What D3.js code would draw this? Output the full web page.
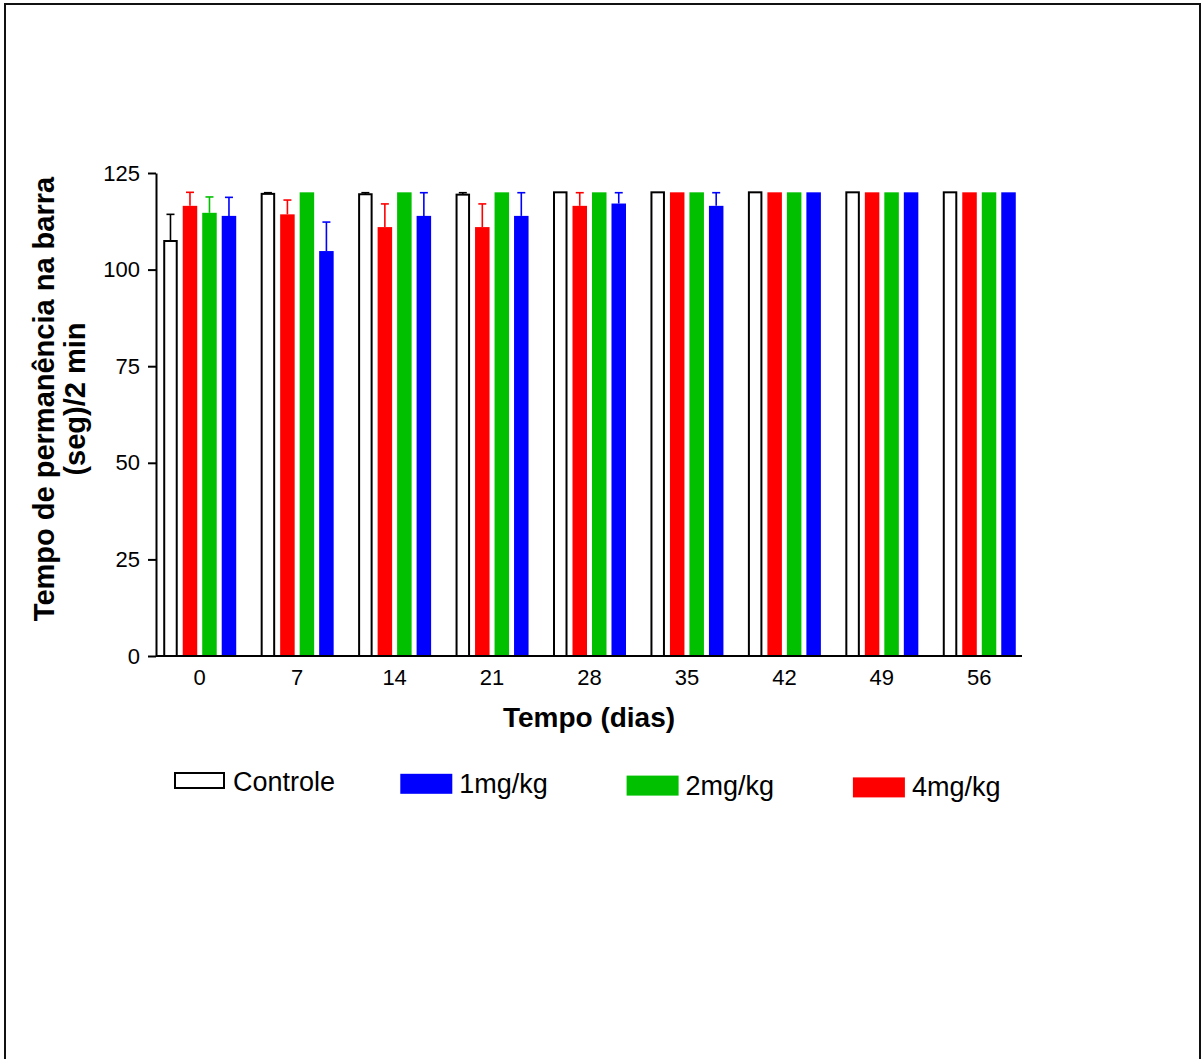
<!DOCTYPE html>
<html>
<head>
<meta charset="utf-8">
<script src="https://cdn.jsdelivr.net/npm/d3@7"></script>
<style>
  body { margin: 0; background: #fff; }
  svg { font-family: Arial, 'Liberation Sans', sans-serif; }
</style>
</head>
<body>
<svg id="chart" width="1202" height="1059"></svg>
<script>
// data
const days = ['0', '7', '14', '21', '28', '35', '42', '49', '56'];
const controle    = [107.4, 119.6, 119.5, 119.4, 120, 120, 120, 120, 120];
const controleErr = [6.9, 0.3, 0.4, 0.5, 0, 0, 0, 0, 0];
const dose4    = [116.5, 114.3, 111.0, 111.0, 116.5, 120, 120, 120, 120];
const dose4Err = [3.5, 3.7, 6.0, 6.0, 3.4, 0, 0, 0, 0];
const dose2    = [114.7, 120, 120, 120, 120, 120, 120, 120, 120];
const dose2Err = [4.1, 0, 0, 0, 0, 0, 0, 0, 0];
const dose1    = [113.9, 104.8, 113.9, 113.9, 117.1, 116.5, 120, 120, 120];
const dose1Err = [4.8, 7.5, 6.0, 6.0, 2.8, 3.4, 0, 0, 0];
const yTicks = [0, 25, 50, 75, 100, 125];

// bar order inside each group
const series = [
  { key: 'Controle', values: controle, err: controleErr, fill: '#ffffff', stroke: '#000000' },
  { key: '4mg/kg', values: dose4, err: dose4Err, fill: '#ff0000', stroke: null },
  { key: '2mg/kg', values: dose2, err: dose2Err, fill: '#00c000', stroke: null },
  { key: '1mg/kg', values: dose1, err: dose1Err, fill: '#0000ff', stroke: null }
];
const legendOrder = ['Controle', '1mg/kg', '2mg/kg', '4mg/kg'];

const svg = d3.select('#chart');

// frame
svg.append('rect')
  .attr('x', 5).attr('y', 4)
  .attr('width', 1195).attr('height', 1100)
  .attr('fill', 'none').attr('stroke', '#111').attr('stroke-width', 2);

const axisX = 156, xEnd = 1022;

const y = d3.scaleLinear().domain([0, 125]).range([656, 173]);

const x0 = d3.scaleBand().domain(days).range([151, 1028]);
const x1 = d3.scaleBand()
  .domain(series.map(s => s.key))
  .range([0, x0.bandwidth()])
  .paddingInner(0.256)
  .paddingOuter(0.627);

// bars
const groups = svg.append('g').selectAll('g')
  .data(days)
  .join('g')
  .attr('transform', d => `translate(${x0(d)},0)`);

series.forEach(s => {
  groups.append('rect')
    .attr('x', (d, i) => x1(s.key) + (s.stroke ? 1 : 0))
    .attr('y', (d, i) => y(s.values[i]))
    .attr('width', x1.bandwidth() - (s.stroke ? 2 : 0))
    .attr('height', (d, i) => y(0) - y(s.values[i]))
    .attr('fill', s.fill)
    .attr('stroke', s.stroke)
    .attr('stroke-width', s.stroke ? 2 : 0);

  // one-sided error bars
  const ec = s.stroke || s.fill;
  groups.filter((d, i) => s.err[i] > 0).each(function(d) {
    const i = days.indexOf(d);
    const cx = x1(s.key) + x1.bandwidth() / 2;
    const g = d3.select(this);
    g.append('line')
      .attr('x1', cx).attr('x2', cx)
      .attr('y1', y(s.values[i])).attr('y2', y(s.values[i] + s.err[i]))
      .attr('stroke', ec).attr('stroke-width', 1.6);
    g.append('line')
      .attr('x1', cx - 4).attr('x2', cx + 4)
      .attr('y1', y(s.values[i] + s.err[i])).attr('y2', y(s.values[i] + s.err[i]))
      .attr('stroke', ec).attr('stroke-width', 1.6);
  });
});

// y axis
const yAxis = svg.append('g')
  .attr('transform', `translate(${axisX},0)`)
  .call(d3.axisLeft(y).tickValues(yTicks).tickSize(8).tickSizeOuter(0).tickPadding(8));
yAxis.selectAll('line, path').attr('stroke', '#000').attr('stroke-width', 2);
yAxis.selectAll('text').attr('font-size', 22).attr('fill', '#000').attr('font-family', null);

// x axis
const xAxis = svg.append('g')
  .attr('transform', `translate(0,${y(0)})`)
  .call(d3.axisBottom(x0).tickSize(0).tickPadding(13));
xAxis.select('.domain').remove();
xAxis.selectAll('text').attr('font-size', 22).attr('fill', '#000').attr('font-family', null);
svg.append('line')
  .attr('x1', axisX).attr('x2', xEnd)
  .attr('y1', y(0)).attr('y2', y(0))
  .attr('stroke', '#000').attr('stroke-width', 2);

// axis titles
svg.append('text')
  .attr('x', 589).attr('y', 727)
  .attr('text-anchor', 'middle')
  .attr('font-size', 28).attr('font-weight', 'bold')
  .text('Tempo (dias)');

const yTitle = svg.append('text')
  .attr('transform', 'translate(54,399) rotate(-90)')
  .attr('text-anchor', 'middle')
  .attr('font-size', 29).attr('font-weight', 'bold');
yTitle.append('tspan').attr('x', 0).attr('y', 0).text('Tempo de permanência na barra');
yTitle.append('tspan').attr('x', 0).attr('y', 31).text('(seg)/2 min');

// legend
const legend = svg.append('g').selectAll('g')
  .data(legendOrder)
  .join('g')
  .attr('transform', (d, i) => `translate(${174 + i * 226.3},${772 + i * 1.8})`);

legend.each(function(k) {
  const s = series.find(v => v.key === k);
  const g = d3.select(this);
  if (s.stroke) {
    g.append('rect').attr('x', 1).attr('y', 1).attr('width', 49).attr('height', 15)
      .attr('fill', s.fill).attr('stroke', s.stroke).attr('stroke-width', 2);
  } else {
    g.append('rect').attr('x', 0).attr('y', 0).attr('width', 52).attr('height', 20)
      .attr('fill', s.fill);
  }
  g.append('text')
    .attr('x', 59).attr('y', 19)
    .attr('font-size', 27)
    .text(k);
});
</script>
</body>
</html>
